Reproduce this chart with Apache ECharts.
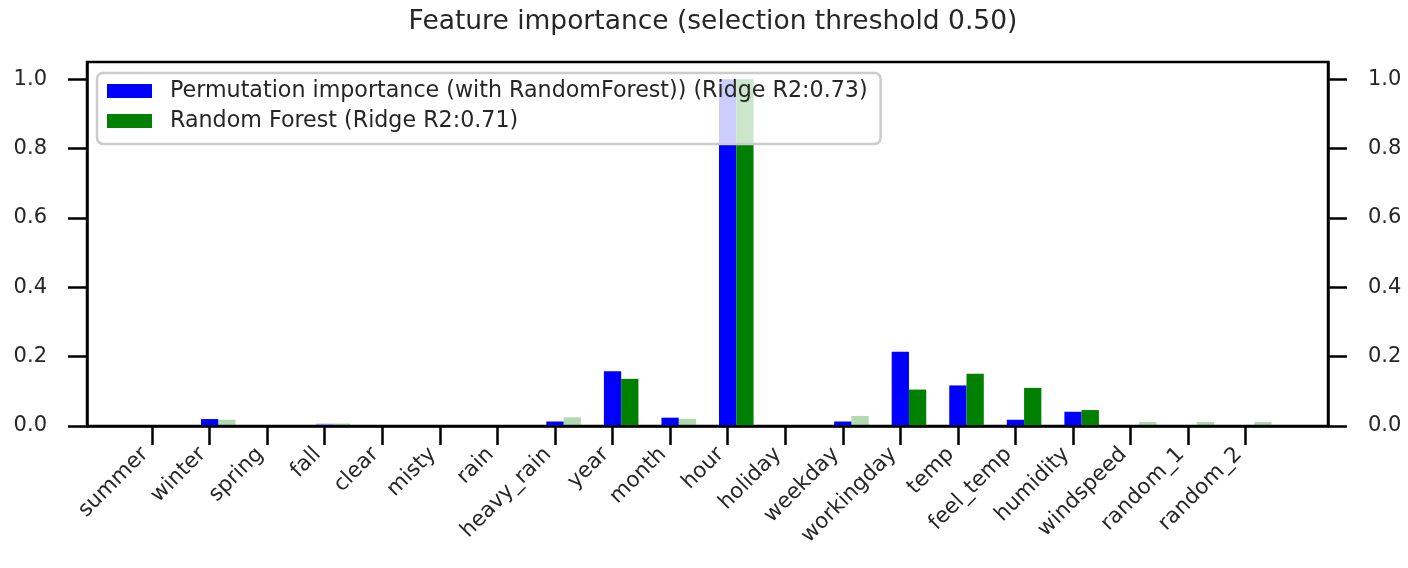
<!DOCTYPE html>
<html><head><meta charset="utf-8">
<script src="https://cdn.jsdelivr.net/npm/echarts@6/dist/echarts.min.js"></script>
<style>html,body{margin:0;padding:0;background:#fff}#c{width:1408px;height:568px}</style>
</head><body><div id="c"></div>
<script>
const categories = ['summer','winter','spring','fall','clear','misty','rain','heavy_rain','year','month','hour','holiday','weekday','workingday','temp','feel_temp','humidity','windspeed','random_1','random_2'];
const permImportance = [0, 0.020, 0, 0.007, 0, 0, 0, 0.013, 0.158, 0.024, 1.0, 0, 0.013, 0.214, 0.117, 0.018, 0.041, 0, 0, 0];
const permSelected   = [1, 1, 1, 0, 1, 1, 1, 1, 1, 1, 1, 1, 1, 1, 1, 1, 1, 1, 1, 1];
const rfImportance   = [0, 0.018, 0, 0.007, 0, 0, 0, 0.025, 0.136, 0.021, 1.0, 0, 0.029, 0.105, 0.151, 0.110, 0.046, 0.012, 0.012, 0.012];
const rfSelected     = [0, 0, 0, 0, 0, 0, 0, 0, 1, 0, 1, 0, 0, 1, 1, 1, 1, 0, 0, 0];
const yTickValues = [0, 0.2, 0.4, 0.6, 0.8, 1.0];
const seriesNames = ['Permutation importance (with RandomForest)) (Ridge R2:0.73)', 'Random Forest (Ridge R2:0.71)'];
const titleText = 'Feature importance (selection threshold 0.50)';

const FONT = 'DejaVu Sans';
const TXT = '#262626';
const xIdx = categories.map((c, i) => i);
const BW = 0.3;            // bar width in category units
const X0 = -1.13, X1 = 20.43;

function mkData(vals, sel) {
  return vals.map((v, i) => ({ value: [i, v], itemStyle: { opacity: sel[i] ? 1 : 0.3 } }));
}

const chart = echarts.init(document.getElementById('c'), null, { renderer: 'canvas' });
const yAxisCommon = {
  type: 'value', min: 0, max: 1.05,
  splitLine: { show: false },
  axisLine: { show: true, onZero: false, lineStyle: { color: '#000', width: 2.5 } },
  axisTick: { show: true, customValues: yTickValues, length: 19, lineStyle: { color: '#000', width: 2.5 } },
  axisLabel: { customValues: yTickValues, formatter: v => v.toFixed(1), fontFamily: FONT, fontSize: 21, color: TXT, margin: 40 },
  z: 3
};
chart.setOption({
  animation: false,
  backgroundColor: '#fff',
  title: {
    text: titleText, left: 708, textAlign: 'center', top: 4,
    textStyle: { fontFamily: FONT, fontSize: 26.5, fontWeight: 'normal', color: TXT }
  },
  grid: { left: 87, right: 80, top: 62, bottom: 142, show: true, borderColor: '#000', borderWidth: 2.5, backgroundColor: 'transparent' },
  legend: {
    orient: 'vertical', left: 97, top: 73,
    itemWidth: 45, itemHeight: 14, itemGap: 6,
    icon: 'rect',
    padding: [6, 13, 11, 10],
    backgroundColor: 'rgba(255,255,255,0.8)',
    borderColor: '#cccccc', borderWidth: 2.5, borderRadius: 6,
    textStyle: { fontFamily: FONT, fontSize: 22.2, color: TXT, lineHeight: 24, padding: [0, 0, 0, 13] },
    data: seriesNames
  },
  xAxis: [
    {
      type: 'value', min: X0, max: X1, position: 'bottom',
      splitLine: { show: false },
      axisLine: { show: true, onZero: false, lineStyle: { color: '#000', width: 2.5 } },
      axisTick: { show: true, customValues: xIdx, length: 19, lineStyle: { color: '#000', width: 2.5 } },
      axisLabel: { customValues: xIdx, formatter: v => categories[Math.round(v)], rotate: 45, fontFamily: FONT, fontSize: 21.5, color: TXT, margin: 18, padding: [0, 10, 0, 0] },
      z: 3
    },
    { type: 'value', min: X0 - BW, max: X1 - BW, show: false }
  ],
  yAxis: [
    Object.assign({ position: 'left' }, yAxisCommon),
    Object.assign({ position: 'right' }, yAxisCommon)
  ],
  series: [
    { name: seriesNames[0], type: 'bar', xAxisIndex: 0, yAxisIndex: 0, barWidth: (BW * 100) + '%', itemStyle: { color: '#0000ff' }, data: mkData(permImportance, permSelected) },
    { name: seriesNames[1], type: 'bar', xAxisIndex: 1, yAxisIndex: 0, barWidth: (BW * 100) + '%', itemStyle: { color: '#008000' }, data: mkData(rfImportance, rfSelected) }
  ]
});
</script></body></html>
